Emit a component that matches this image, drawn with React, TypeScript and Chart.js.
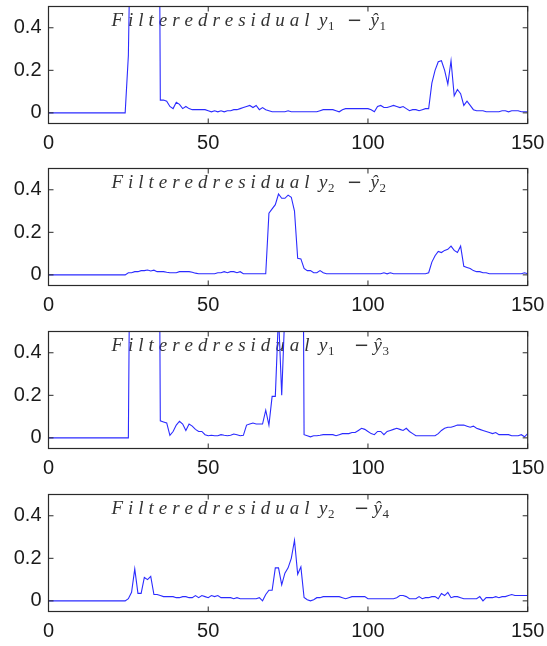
import React, { useEffect, useRef } from "react";
import { Chart, registerables } from "chart.js";

Chart.register(...registerables);

// ---------- data ----------
const xTicks = [0, 50, 100, 150];
const yTicks = [0, 0.2, 0.4];
const xMin = 0;
const xMax = 150;
const yMin = -0.05;
const yMax = 0.5;

const residual1 = [
  0, 0, 0, 0, 0, 0, 0, 0, 0, 0,
  0, 0, 0, 0, 0, 0, 0, 0, 0, 0,
  0, 0, 0, 0, 0, 0.27, 1.2, 1.2, 1.2, 1.2,
  1.2, 1.2, 1.2, 1.2, 3, 0.06, 0.06, 0.055, 0.03, 0.02,
  0.05, 0.04, 0.02, 0.03, 0.02, 0.015, 0.015, 0.015, 0.015, 0.015,
  0.01, 0.005, 0.01, 0.005, 0.01, 0.005, 0.01, 0.01, 0.015, 0.015,
  0.02, 0.025, 0.03, 0.035, 0.025, 0.035, 0.015, 0.025, 0.015, 0.01,
  0.005, 0.005, 0.005, 0.005, 0.005, 0.01, 0.005, 0.005, 0.005, 0.005,
  0.005, 0.005, 0.005, 0.005, 0.005, 0.01, 0.015, 0.015, 0.015, 0.015,
  0.01, 0.005, 0.015, 0.02, 0.02, 0.02, 0.02, 0.02, 0.02, 0.02,
  0.02, 0.015, 0.005, 0.03, 0.035, 0.025, 0.025, 0.03, 0.035, 0.03,
  0.025, 0.03, 0.02, 0.01, 0.015, 0.015, 0.01, 0.015, 0.02, 0.02,
  0.14, 0.2, 0.24, 0.245, 0.2, 0.135, 0.245, 0.08, 0.11, 0.09,
  0.035, 0.055, 0.035, 0.015, 0.01, 0.01, 0.01, 0.005, 0.005, 0.005,
  0.005, 0.005, 0.01, 0.01, 0.005, 0.01, 0.01, 0.01, 0.005, 0.005,
  0.005,
];

const residual2 = [
  0, 0, 0, 0, 0, 0, 0, 0, 0, 0,
  0, 0, 0, 0, 0, 0, 0, 0, 0, 0,
  0, 0, 0, 0, 0, 0.01, 0.01, 0.015, 0.015, 0.02,
  0.02, 0.023, 0.018, 0.022, 0.015, 0.015, 0.015, 0.012, 0.01, 0.01,
  0.01, 0.015, 0.015, 0.015, 0.015, 0.012, 0.008, 0.005, 0.005, 0.005,
  0.005, 0.005, 0.005, 0.01, 0.01, 0.015, 0.01, 0.015, 0.015, 0.01,
  0.015, 0.005, 0.005, 0.005, 0.005, 0.005, 0.005, 0.005, 0.005, 0.29,
  0.31, 0.33, 0.38, 0.36, 0.36, 0.375, 0.365, 0.3, 0.078, 0.075,
  0.03, 0.02, 0.02, 0.01, 0.01, 0.02, 0.01, 0.005, 0.005, 0.005,
  0.005, 0.005, 0.005, 0.005, 0.005, 0.005, 0.005, 0.005, 0.005, 0.005,
  0.005, 0.005, 0.005, 0.005, 0.005, 0.01, 0.005, 0.01, 0.005, 0.005,
  0.005, 0.005, 0.005, 0.005, 0.005, 0.005, 0.005, 0.005, 0.005, 0.01,
  0.06, 0.09, 0.11, 0.105, 0.115, 0.12, 0.135, 0.115, 0.105, 0.135,
  0.04, 0.035, 0.03, 0.02, 0.015, 0.015, 0.01, 0.01, 0.005, 0.005,
  0.005, 0.005, 0.005, 0.005, 0.005, 0.005, 0.005, 0.005, 0.005, 0.01,
  0.005,
];

const residual3 = [
  0, 0, 0, 0, 0, 0, 0, 0, 0, 0,
  0, 0, 0, 0, 0, 0, 0, 0, 0, 0,
  0, 0, 0, 0, 0, 0, 2, 2, 2, 2,
  2, 2, 2, 2, 3, 0.08, 0.075, 0.07, 0.012, 0.03,
  0.06, 0.078, 0.065, 0.035, 0.065, 0.055, 0.04, 0.03, 0.03, 0.015,
  0.01, 0.012, 0.01, 0.01, 0.015, 0.012, 0.01, 0.012, 0.018, 0.015,
  0.01, 0.012, 0.06, 0.065, 0.07, 0.065, 0.065, 0.065, 0.13, 0.06,
  0.195, 0.195, 0.58, 0.2, 0.6, 2, 2, 2, 2, 3,
  0.015, 0.01, 0.005, 0.01, 0.01, 0.012, 0.015, 0.015, 0.015, 0.015,
  0.01, 0.015, 0.02, 0.02, 0.02, 0.025, 0.025, 0.035, 0.045, 0.04,
  0.03, 0.02, 0.015, 0.03, 0.03, 0.015, 0.03, 0.035, 0.04, 0.045,
  0.04, 0.035, 0.045, 0.03, 0.02, 0.01, 0.01, 0.01, 0.01, 0.01,
  0.01, 0.01, 0.02, 0.035, 0.045, 0.05, 0.05, 0.055, 0.06, 0.06,
  0.06, 0.055, 0.05, 0.055, 0.045, 0.04, 0.035, 0.03, 0.025, 0.02,
  0.025, 0.015, 0.015, 0.015, 0.015, 0.01, 0.01, 0.01, 0.015, 0.005,
  0.02,
];

const residual4 = [
  0, 0, 0, 0, 0, 0, 0, 0, 0, 0,
  0, 0, 0, 0, 0, 0, 0, 0, 0, 0,
  0, 0, 0, 0, 0, 0.01, 0.04, 0.15, 0.035, 0.035,
  0.11, 0.1, 0.115, 0.03, 0.03, 0.025, 0.02, 0.02, 0.02, 0.02,
  0.015, 0.015, 0.02, 0.02, 0.015, 0.015, 0.025, 0.015, 0.025, 0.02,
  0.015, 0.025, 0.02, 0.025, 0.015, 0.015, 0.015, 0.015, 0.01, 0.015,
  0.01, 0.01, 0.01, 0.01, 0.01, 0.01, 0.015, 0, 0.03, 0.05,
  0.05, 0.155, 0.155, 0.075, 0.13, 0.155, 0.2, 0.285, 0.125, 0.16,
  0.016, 0.005, 0, 0.005, 0.015, 0.015, 0.02, 0.02, 0.02, 0.02,
  0.02, 0.02, 0.015, 0.01, 0.015, 0.02, 0.02, 0.02, 0.02, 0.02,
  0.01, 0.01, 0.01, 0.01, 0.01, 0.01, 0.01, 0.01, 0.01, 0.015,
  0.025, 0.025, 0.02, 0.01, 0.01, 0.01, 0.02, 0.01, 0.015, 0.015,
  0.02, 0.02, 0.01, 0.035, 0.025, 0.04, 0.015, 0.02, 0.02, 0.015,
  0.01, 0.01, 0.01, 0.01, 0.01, 0.02, 0, 0.015, 0.015, 0.015,
  0.02, 0.015, 0.02, 0.02, 0.025, 0.03, 0.025, 0.025, 0.025, 0.025,
  0.025,
];

const seriesList = [residual1, residual2, residual3, residual4];
const titleWord = "Filteredresidual";
const lhsSubs = ["1", "2", "1", "2"];
const rhsSubs = ["1", "2", "3", "4"];

// ---------- layout / style ----------
const W = 547;
const H = 646;
const CANVAS_H = 162;
const canvasTops = [0, 162, 325, 488];
const PLOT_TOP = 6.5;
const PLOT_H = 117;
const PLOT_LEFT = 48.5;
const PLOT_RIGHT = 527.7;
const LINE_COLOR = "#2b2bff";
const FRAME_COLOR = "#2a2a2a";
const TICK_FONT = { family: "'Liberation Sans', Arial, sans-serif", size: 20 };
// title offsets (relative to the plot's left edge)
const TITLE_WORD_X = 63;
const TITLE_WORD_SPAN = 198;
const TITLE_Y_X = 270.5;
const minusOffsets = [299.5, 299.5, 306.5, 306.5];
const hatOffsets = [322, 322, 325, 325];

function drawTitle(ctx: CanvasRenderingContext2D, left: number, top: number, idx: number) {
  ctx.save();
  ctx.fillStyle = "#333333";
  ctx.textBaseline = "alphabetic";
  ctx.textAlign = "left";
  const base = top + 19.5;
  const italic = "italic 19px 'Liberation Serif', 'DejaVu Serif', serif";
  const minusFont = "18px 'DejaVu Sans', sans-serif";
  const sub = "13px 'Liberation Serif', 'DejaVu Serif', serif";
  ctx.font = italic;
  const chars = titleWord.split("");
  const natural = chars.reduce((s, c) => s + ctx.measureText(c).width, 0);
  const gap = (TITLE_WORD_SPAN - natural) / (chars.length - 1);
  let x = left + TITLE_WORD_X;
  for (const c of chars) {
    ctx.fillText(c, x, base);
    x += ctx.measureText(c).width + gap;
  }
  let mx = left + TITLE_Y_X;
  ctx.font = italic;
  ctx.fillText("y", mx, base);
  mx += ctx.measureText("y").width + 0.5;
  ctx.font = sub;
  ctx.fillText(lhsSubs[idx], mx, base + 4);
  ctx.font = minusFont;
  ctx.fillText("\u2212", left + minusOffsets[idx] - 1, base - 0.5);
  let hx = left + hatOffsets[idx];
  ctx.font = italic;
  ctx.fillText("\u0177", hx, base);
  hx += ctx.measureText("\u0177").width + 0.5;
  ctx.font = sub;
  ctx.fillText(rhsSubs[idx], hx, base + 4);
  ctx.restore();
}

function makePlugin(idx: number) {
  return {
    id: "frameTitle" + idx,
    beforeDatasetsDraw(chart: any) {
      const { ctx, chartArea } = chart;
      drawTitle(ctx, chartArea.left, chartArea.top, idx);
    },
    afterDraw(chart: any) {
      const { ctx, chartArea, scales } = chart;
      const { left, right, top, bottom } = chartArea;
      ctx.save();
      ctx.strokeStyle = FRAME_COLOR;
      ctx.lineWidth = 1.2;
      ctx.strokeRect(left, top, right - left, bottom - top);
      ctx.lineWidth = 1;
      ctx.beginPath();
      for (const v of xTicks) {
        const px = scales.x.getPixelForValue(v);
        ctx.moveTo(px, bottom);
        ctx.lineTo(px, bottom - 5);
        ctx.moveTo(px, top);
        ctx.lineTo(px, top + 5);
      }
      for (const v of yTicks) {
        const py = scales.y.getPixelForValue(v);
        ctx.moveTo(left, py);
        ctx.lineTo(left + 5, py);
        ctx.moveTo(right, py);
        ctx.lineTo(right - 5, py);
      }
      ctx.stroke();
      ctx.restore();
    },
  };
}

function zeroPad(axis: any) {
  axis.paddingTop = 0;
  axis.paddingBottom = 0;
  axis.paddingLeft = 0;
  axis.paddingRight = 0;
}

function Panel({ idx }: { idx: number }) {
  const ref = useRef<HTMLCanvasElement | null>(null);
  useEffect(() => {
    if (!ref.current) return;
    const values = seriesList[idx];
    const data = values.map((v, i) => ({ x: i, y: v }));
    const chart = new Chart(ref.current, {
      type: "line",
      data: {
        datasets: [
          {
            data,
            borderColor: LINE_COLOR,
            borderWidth: 1.1,
            pointRadius: 0,
            tension: 0,
            fill: false,
          },
        ],
      },
      options: {
        animation: false,
        responsive: false,
        events: [],
        layout: {
          padding: { top: PLOT_TOP, left: 0, right: W - PLOT_RIGHT, bottom: 0 },
        },
        plugins: {
          legend: { display: false },
          tooltip: { enabled: false },
          title: { display: false },
        },
        scales: {
          x: {
            type: "linear",
            min: xMin,
            max: xMax,
            grid: { display: false, drawTicks: false, tickLength: 0 },
            border: { display: false },
            afterBuildTicks: (axis: any) => {
              axis.ticks = xTicks.map((v) => ({ value: v }));
            },
            afterFit: (axis: any) => {
              axis.height = CANVAS_H - PLOT_TOP - PLOT_H;
              zeroPad(axis);
            },
            ticks: {
              color: "#1a1a1a",
              font: TICK_FONT,
              padding: 8,
              maxRotation: 0,
              autoSkip: false,
              callback: (v: any) => String(v),
            },
          },
          y: {
            type: "linear",
            min: yMin,
            max: yMax,
            grid: { display: false, drawTicks: false, tickLength: 0 },
            border: { display: false },
            afterBuildTicks: (axis: any) => {
              axis.ticks = yTicks.map((v) => ({ value: v }));
            },
            afterFit: (axis: any) => {
              axis.width = PLOT_LEFT;
              zeroPad(axis);
            },
            ticks: {
              color: "#1a1a1a",
              font: TICK_FONT,
              padding: 7,
              autoSkip: false,
              callback: (v: any) => String(v),
            },
          },
        },
      },
      plugins: [makePlugin(idx)],
    } as any);
    return () => chart.destroy();
  }, [idx]);
  return (
    <canvas
      ref={ref}
      width={W}
      height={CANVAS_H}
      style={{ position: "absolute", left: 0, top: canvasTops[idx], width: W, height: CANVAS_H }}
    />
  );
}

export default function App() {
  return (
    <div
      style={{
        position: "absolute",
        left: 0,
        top: 0,
        width: W,
        height: H,
        overflow: "hidden",
        background: "#ffffff",
      }}
    >
      {[0, 1, 2, 3].map((i) => (
        <Panel key={i} idx={i} />
      ))}
    </div>
  );
}
